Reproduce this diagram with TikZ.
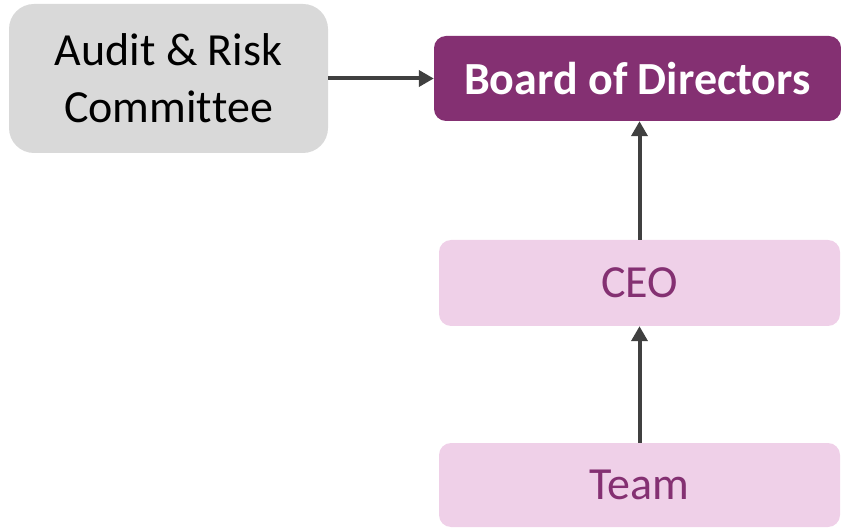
\documentclass[tikz,border=0pt]{standalone}
\usepackage{fontspec}
\setmainfont{Carlito}[Ligatures={NoCommon,NoRequired}]
\usepackage{tikz}
\usetikzlibrary{
  arrows.meta,
  calc
}
\definecolor{boardpurple}{HTML}{843072}
\definecolor{ceopink}{HTML}{EFD0E8}
\definecolor{auditgray}{HTML}{D9D9D9}
\definecolor{arrowgray}{HTML}{404040}

\begin{document}
\begin{tikzpicture}[line cap=round,line join=round,>={Triangle[width=16pt,length=15pt]},x=1pt,y=1pt,
  box/.style={rectangle,inner sep=0pt,font=\fontsize{46}{57}\selectfont,align=center},
  link/.style={->,line width=4pt,draw=arrowgray,line cap=butt}]
\useasboundingbox (0,0) rectangle (841,528);
\node [box,fill=auditgray,rounded corners=25pt,minimum width=319pt,minimum height=149pt] (audit) at (168.5,449.5) {Audit \& Risk\\Commit\kern0pt tee};
\node [box,fill=boardpurple,text=white,rounded corners=12pt,minimum width=407pt,minimum height=85pt,font=\fontsize{46}{57}\selectfont\bfseries] (board) at (637.5,449.5) {Board of Directors};
\node [box,fill=ceopink,text=boardpurple,rounded corners=12pt,minimum width=401pt,minimum height=86pt] (ceo) at (639.5,245) {CEO};
\node [box,fill=ceopink,text=boardpurple,rounded corners=12pt,minimum width=401pt,minimum height=84pt] (team) at (639.5,43) {Team};
\draw [link] (audit.east) -- (board.west);
\draw [link] (ceo.north) -- (board.south -| ceo.north);
\draw [link] (team.north) -- (ceo.south);
\end{tikzpicture}
\end{document}
